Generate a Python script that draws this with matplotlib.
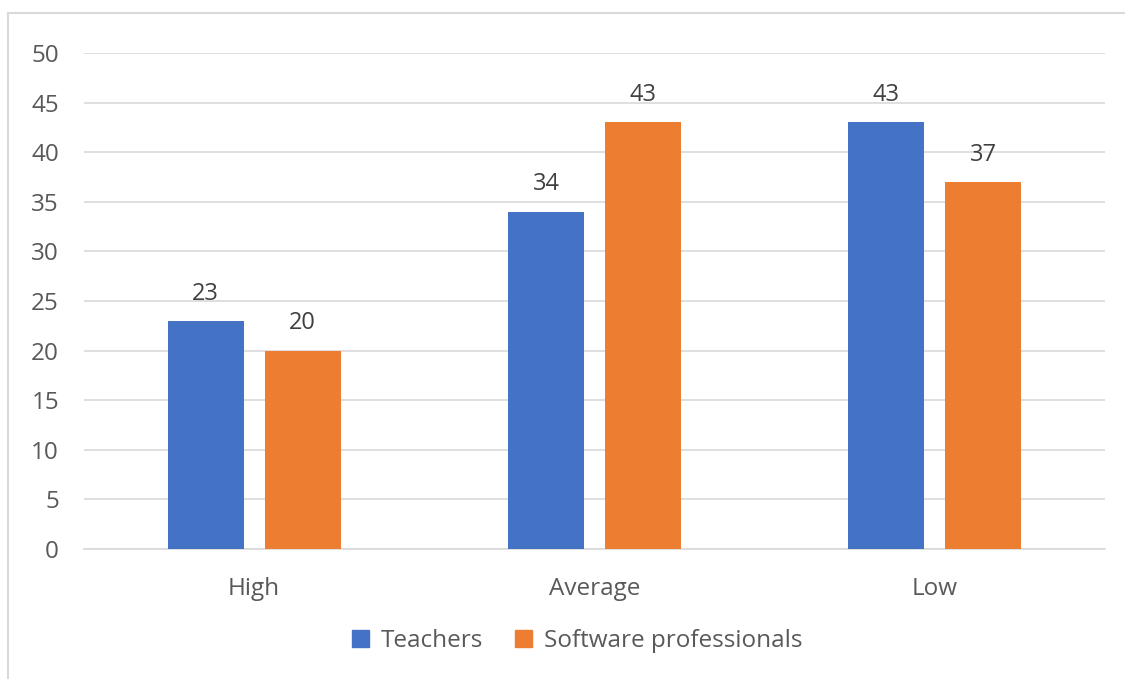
import numpy as np
import matplotlib.pyplot as plt
from matplotlib.lines import Line2D
from matplotlib.patches import Patch

categories = ["High", "Average", "Low"]
teachers = [23, 34, 43]
software = [20, 43, 37]
series_names = ["Teachers", "Software professionals"]
yticks = [0, 5, 10, 15, 20, 25, 30, 35, 40, 45, 50]

blue = "#4472C4"
orange = "#ED7D31"
grey_text = "#595959"
grid_col = "#D9D9D9"

plt.rcParams['font.family'] = ['Open Sans', 'DejaVu Sans']

fig = plt.figure(figsize=(11.25, 6.79), dpi=100)
ax = fig.add_axes([84 / 1125, 1 - 549 / 679, (1105 - 84) / 1125, (549 - 53) / 679])

x = np.arange(len(categories))
w = 0.2235
off = 0.1425
b1 = ax.bar(x - off, teachers, w, color=blue, zorder=3)
b2 = ax.bar(x + off, software, w, color=orange, zorder=3)

for bars in (b1, b2):
    for r in bars:
        ax.annotate(f"{r.get_height():g}", (r.get_x() + r.get_width() / 2, r.get_height()),
                    xytext=(0, 11), textcoords="offset points", ha="center", va="bottom",
                    fontsize=17, color="#404040")

ax.set_xlim(-0.5, 2.5)
ax.set_ylim(0, 50)
ax.set_yticks(yticks)
ax.set_xticks(x)
ax.set_xticklabels(categories)
ax.tick_params(axis="both", length=0, labelsize=17.5, colors=grey_text)
ax.tick_params(axis="y", pad=18)
ax.tick_params(axis="x", pad=20)
ax.grid(axis="y", color=grid_col, linewidth=1.2, zorder=0)
for s in ["top", "right", "left"]:
    ax.spines[s].set_visible(False)
ax.spines["bottom"].set_color(grid_col)
ax.spines["bottom"].set_linewidth(1.2)

handles = [Patch(color=blue), Patch(color=orange)]
fig.legend(handles, series_names, loc="center", bbox_to_anchor=(577 / 1125, 1 - 641 / 679),
           ncol=2, frameon=False, fontsize=17.5, labelcolor=grey_text,
           handlelength=0.7, handleheight=0.7, handletextpad=0.5, columnspacing=1.3)

# outer chart border (left and top edges visible)
fig.add_artist(Line2D([8 / 1125, 8 / 1125], [0, 1 - 13 / 679], color=grid_col, linewidth=1.5))
fig.add_artist(Line2D([8 / 1125, 1], [1 - 13 / 679, 1 - 13 / 679], color=grid_col, linewidth=1.5))

fig.savefig("out.png", dpi=100)
